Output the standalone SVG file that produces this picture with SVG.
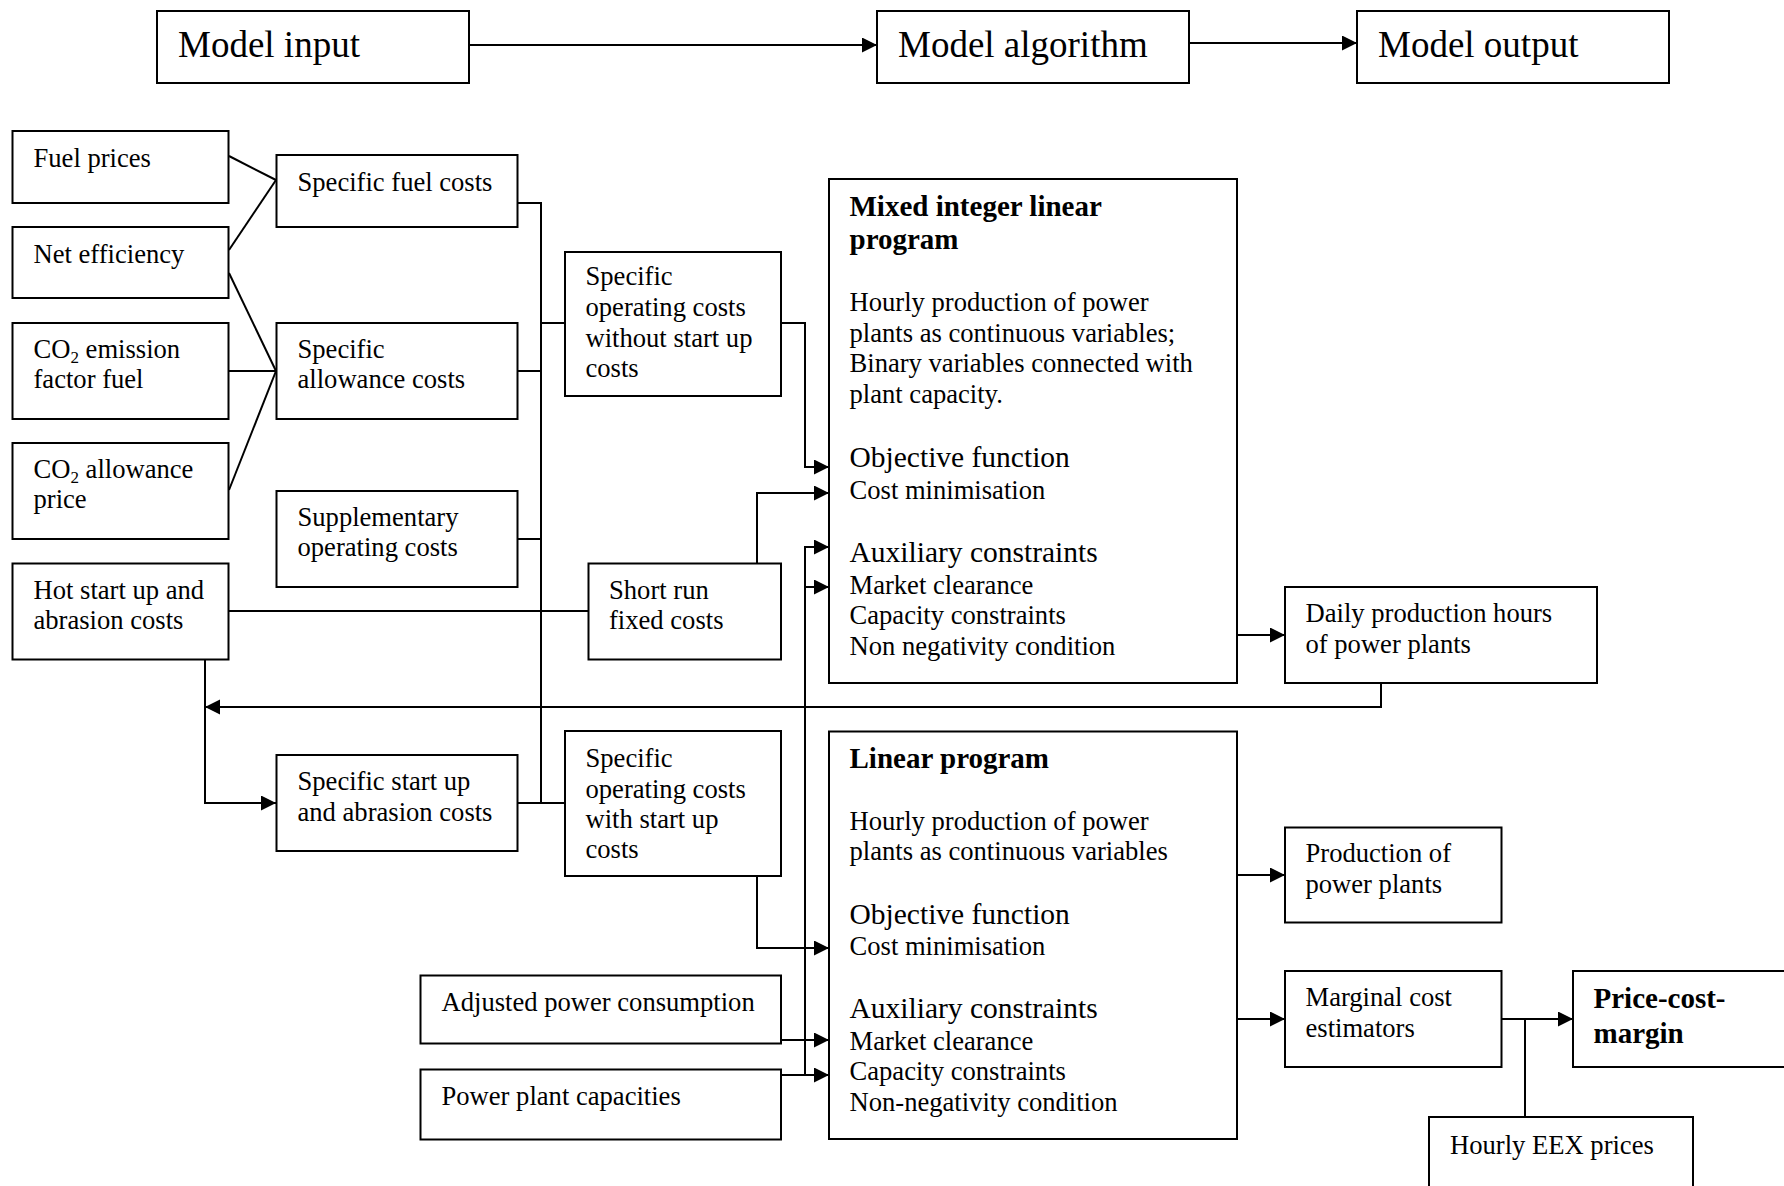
<svg xmlns="http://www.w3.org/2000/svg" width="1784" height="1186" viewBox="0 0 1784 1186">
<style>
.box{fill:#fff;stroke:#000;stroke-width:2}
text{font-family:"Liberation Serif","Times New Roman",serif;font-size:26.6px;fill:#000}
.big{font-size:37px}
.h{font-size:29.5px}
.b{font-size:29px;font-weight:bold}
.c{fill:none;stroke:#000;stroke-width:2}
.a{fill:none;stroke:#000;stroke-width:2;marker-end:url(#arr)}
</style>
<defs>
<marker id="arr" markerUnits="userSpaceOnUse" markerWidth="16" markerHeight="16" refX="15" refY="7.5" orient="auto">
<path d="M0,0 L15,7.5 L0,15 z" fill="#000"/>
</marker>
</defs>
<rect width="1784" height="1186" fill="#fff"/>

<g id="connectors">
<path class="a" d="M469,45 H877"/>
<path class="a" d="M1189,43 H1357"/>
<path class="c" d="M229,156 L276,180"/>
<path class="c" d="M229,250 L276,180"/>
<path class="c" d="M229,273 L276,371"/>
<path class="c" d="M229,371 L276,371"/>
<path class="c" d="M229,490 L276,371"/>
<path class="c" d="M517,203 H541 V803"/>
<path class="c" d="M517,371 H541"/>
<path class="c" d="M517,539 H541"/>
<path class="c" d="M541,323 H565"/>
<path class="c" d="M517,803 H565"/>
<path class="c" d="M229,611 H588.5"/>
<path class="a" d="M205,659 V803 H276"/>
<path class="a" d="M1381,683 V707 H205"/>
<path class="a" d="M781,323 H805 V467 H829"/>
<path class="a" d="M757,563 V493 H829"/>
<path class="a" d="M805,1075 V547 H829"/>
<path class="a" d="M805,587 H829"/>
<path class="a" d="M781,1075 H829"/>
<path class="a" d="M781,1040 H829"/>
<path class="a" d="M757,876 V948 H829"/>
<path class="a" d="M1237,635 H1285"/>
<path class="a" d="M1237,875 H1285"/>
<path class="a" d="M1237,1019 H1285"/>
<path class="a" d="M1501,1019 H1573"/>
<path class="c" d="M1525,1117 V1019"/>
</g>

<g id="model-input"><rect class="box" x="157" y="11" width="312" height="72"/><text class="big" x="178" y="57">Model input</text></g>
<g id="model-algorithm"><rect class="box" x="877" y="11" width="312" height="72"/><text class="big" x="898" y="57">Model algorithm</text></g>
<g id="model-output"><rect class="box" x="1357" y="11" width="312" height="72"/><text class="big" x="1378" y="57">Model output</text></g>

<g id="fuel-prices"><rect class="box" x="12.5" y="131" width="216" height="72"/><text x="33.5" y="167">Fuel prices</text></g>
<g id="net-efficiency"><rect class="box" x="12.5" y="227" width="216" height="71"/><text x="33.5" y="263">Net efficiency</text></g>
<g id="co2-emission-factor"><rect class="box" x="12.5" y="323" width="216" height="96"/><text x="33.5" y="358">CO<tspan font-size="17" dy="5">2</tspan><tspan dy="-5"> emission</tspan></text><text x="33.5" y="388">factor fuel</text></g>
<g id="co2-allowance-price"><rect class="box" x="12.5" y="443" width="216" height="96"/><text x="33.5" y="478">CO<tspan font-size="17" dy="5">2</tspan><tspan dy="-5"> allowance</tspan></text><text x="33.5" y="508">price</text></g>
<g id="hot-start-up"><rect class="box" x="12.5" y="563.5" width="216" height="96"/><text x="33.5" y="598.5">Hot start up and</text><text x="33.5" y="628.5">abrasion costs</text></g>

<g id="specific-fuel-costs"><rect class="box" x="276.5" y="155" width="241" height="72"/><text x="297.5" y="191">Specific fuel costs</text></g>
<g id="specific-allowance-costs"><rect class="box" x="276.5" y="323" width="241" height="96"/><text x="297.5" y="358">Specific</text><text x="297.5" y="388">allowance costs</text></g>
<g id="supplementary-operating-costs"><rect class="box" x="276.5" y="491" width="241" height="96"/><text x="297.5" y="526">Supplementary</text><text x="297.5" y="556">operating costs</text></g>
<g id="specific-start-up"><rect class="box" x="276.5" y="755" width="241" height="96"/><text x="297.5" y="790">Specific start up</text><text x="297.5" y="821">and abrasion costs</text></g>

<g id="spec-op-without"><rect class="box" x="565" y="252" width="216" height="144"/><text x="585.5" y="285">Specific</text><text x="585.5" y="316">operating costs</text><text x="585.5" y="346.5">without start up</text><text x="585.5" y="377">costs</text></g>
<g id="short-run-fixed"><rect class="box" x="588.5" y="563.5" width="192.5" height="96"/><text x="609" y="598.5">Short run</text><text x="609" y="628.5">fixed costs</text></g>
<g id="spec-op-with"><rect class="box" x="565" y="731" width="216" height="145"/><text x="585.5" y="766.5">Specific</text><text x="585.5" y="797.5">operating costs</text><text x="585.5" y="828">with start up</text><text x="585.5" y="858">costs</text></g>
<g id="adjusted-power"><rect class="box" x="420.5" y="975.5" width="360.5" height="68"/><text x="441.5" y="1010.5">Adjusted power consumption</text></g>
<g id="plant-capacities"><rect class="box" x="420.5" y="1069.5" width="360.5" height="70"/><text x="441.5" y="1105">Power plant capacities</text></g>

<g id="milp"><rect class="box" x="829" y="179" width="408" height="504"/>
<text class="b" x="849.5" y="216">Mixed integer linear</text><text class="b" x="849.5" y="249">program</text>
<text x="849.5" y="311">Hourly production of power</text><text x="849.5" y="341.5">plants as continuous variables;</text><text x="849.5" y="372">Binary variables connected with</text><text x="849.5" y="402.5">plant capacity.</text>
<text class="h" x="849.5" y="467">Objective function</text><text x="849.5" y="499">Cost minimisation</text>
<text class="h" x="849.5" y="562">Auxiliary constraints</text><text x="849.5" y="593.5">Market clearance</text><text x="849.5" y="624">Capacity constraints</text><text x="849.5" y="655">Non negativity condition</text>
</g>

<g id="lp"><rect class="box" x="829" y="731.5" width="408" height="407.5"/>
<text class="b" x="849.5" y="768">Linear program</text>
<text x="849.5" y="830">Hourly production of power</text><text x="849.5" y="860">plants as continuous variables</text>
<text class="h" x="849.5" y="924">Objective function</text><text x="849.5" y="955">Cost minimisation</text>
<text class="h" x="849.5" y="1018">Auxiliary constraints</text><text x="849.5" y="1050">Market clearance</text><text x="849.5" y="1080">Capacity constraints</text><text x="849.5" y="1110.5">Non-negativity condition</text>
</g>

<g id="daily-production-hours"><rect class="box" x="1285" y="587" width="312" height="96"/><text x="1305.5" y="622">Daily production hours</text><text x="1305.5" y="653">of power plants</text></g>
<g id="production-power-plants"><rect class="box" x="1285" y="827.5" width="216.5" height="95"/><text x="1305.5" y="861.5">Production of</text><text x="1305.5" y="892.5">power plants</text></g>
<g id="marginal-cost"><rect class="box" x="1285" y="971" width="216.5" height="96"/><text x="1305.5" y="1006">Marginal cost</text><text x="1305.5" y="1037">estimators</text></g>
<g id="price-cost-margin"><rect class="box" x="1573" y="971" width="240" height="96"/><text class="b" x="1593.5" y="1008">Price-cost-</text><text class="b" x="1593.5" y="1043">margin</text></g>
<g id="hourly-eex"><rect class="box" x="1429" y="1117" width="264" height="100"/><text x="1450" y="1153.5">Hourly EEX prices</text></g>
</svg>
